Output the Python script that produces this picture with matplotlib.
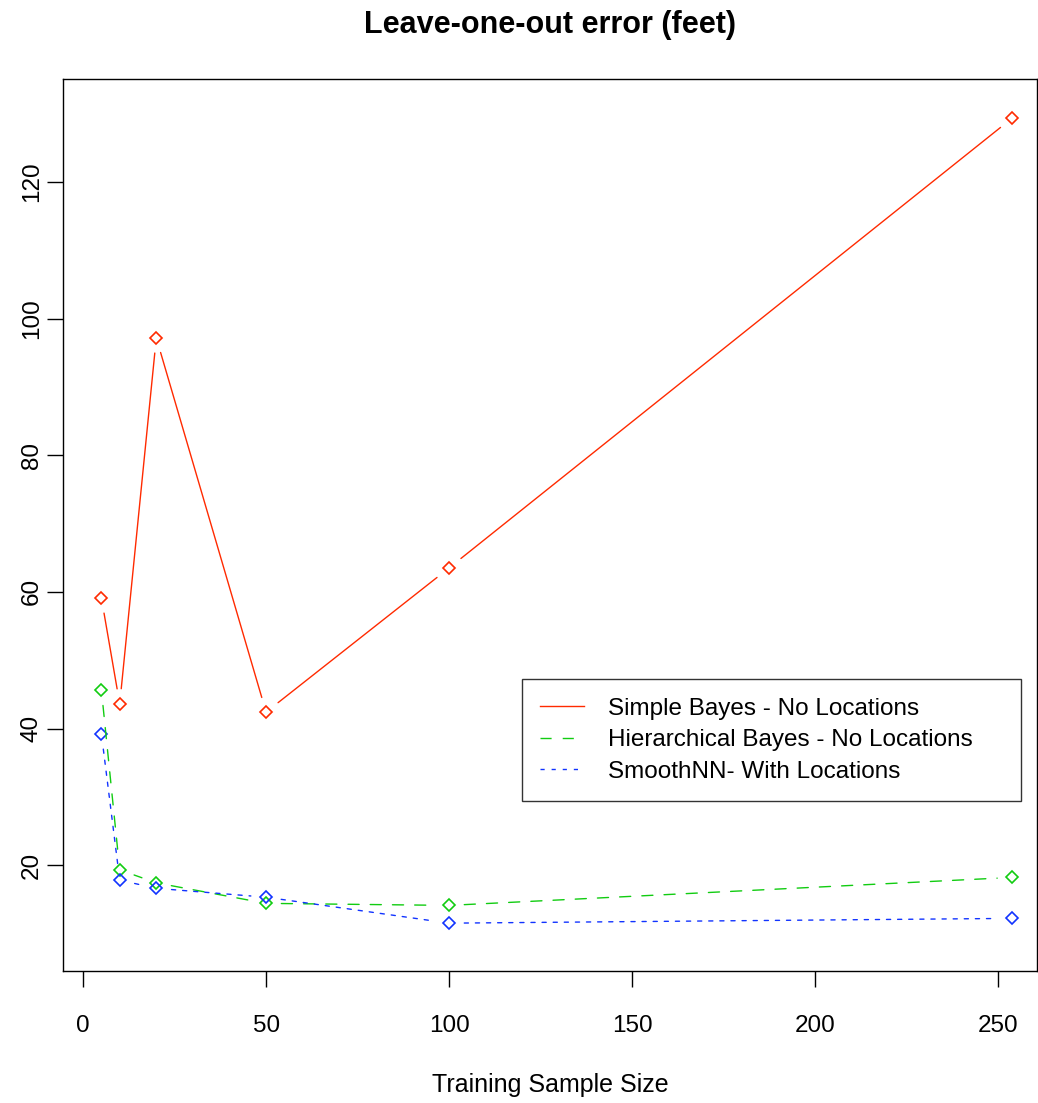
import matplotlib
matplotlib.use("Agg")
import matplotlib.pyplot as plt
from matplotlib.lines import Line2D

# training sample sizes and leave-one-out error (feet)
sample_size = [5, 10, 20, 50, 100, 254]
simple_bayes = [59.1, 43.6, 97.2, 42.4, 63.5, 129.4]
hier_bayes = [45.6, 19.3, 17.4, 14.4, 14.1, 18.2]
smooth_nn = [39.2, 17.8, 16.6, 15.3, 11.5, 12.2]

labels = ["Simple Bayes - No Locations",
          "Hierarchical Bayes - No Locations",
          "SmoothNN- With Locations"]
colors = ["#ff2a00", "#11cc11", "#1133ff"]
styles = ["-", (0, (8, 8)), (0, (3, 5))]
series = [simple_bayes, hier_bayes, smooth_nn]

plt.rcParams['font.family'] = ['Liberation Sans', 'DejaVu Sans']

fig = plt.figure(figsize=(10.38, 11.03), dpi=100)
ax = fig.add_axes([0.0607, 0.1197, 0.9383, 0.8087])


def draw_b(ax, xs, ys, color, ls):
    # R type="b": segments with gaps around the points
    for i in range(len(xs) - 1):
        ax.annotate("", xy=(xs[i + 1], ys[i + 1]), xytext=(xs[i], ys[i]),
                    arrowprops=dict(arrowstyle="-", color=color, lw=1.0,
                                    linestyle=ls, shrinkA=11, shrinkB=11))
    ax.plot(xs, ys, linestyle="none", marker="D", markersize=6.5,
            markerfacecolor="none", markeredgecolor=color, markeredgewidth=1.2)


for ys, c, ls in zip(series, colors, styles):
    draw_b(ax, sample_size, ys, c, ls)

ax.set_xlim(-5.5, 260.7)
ax.set_ylim(4.5, 135.1)
ax.set_xticks([0, 50, 100, 150, 200, 250])
ax.set_yticks([20, 40, 60, 80, 100, 120])
ax.tick_params(axis="both", length=11.5, width=1, labelsize=17.5)
ax.tick_params(axis="x", pad=20)
ax.tick_params(axis="y", pad=3)
for lab in ax.get_yticklabels():
    lab.set_rotation(90)
    lab.set_va("center")

for sp in ax.spines.values():
    sp.set_linewidth(1)

ax.set_title("Leave-one-out error (feet)", fontsize=22, fontweight="bold", pad=33)
ax.set_xlabel("Training Sample Size", fontsize=18, labelpad=26)

handles = [Line2D([], [], color=c, lw=1.0, linestyle=ls) for c, ls in zip(colors, styles)]
leg = ax.legend(handles, labels, loc="upper left",
                bbox_to_anchor=(0.471, 0.19, 0.5126, 0.137), mode="expand",
                fontsize=17.5, frameon=True, fancybox=False, edgecolor="black",
                handlelength=1.8, handletextpad=1.0, labelspacing=0.4,
                borderpad=0.75, borderaxespad=0)
leg.get_frame().set_linewidth(1)

fig.savefig("out.png", dpi=100)
